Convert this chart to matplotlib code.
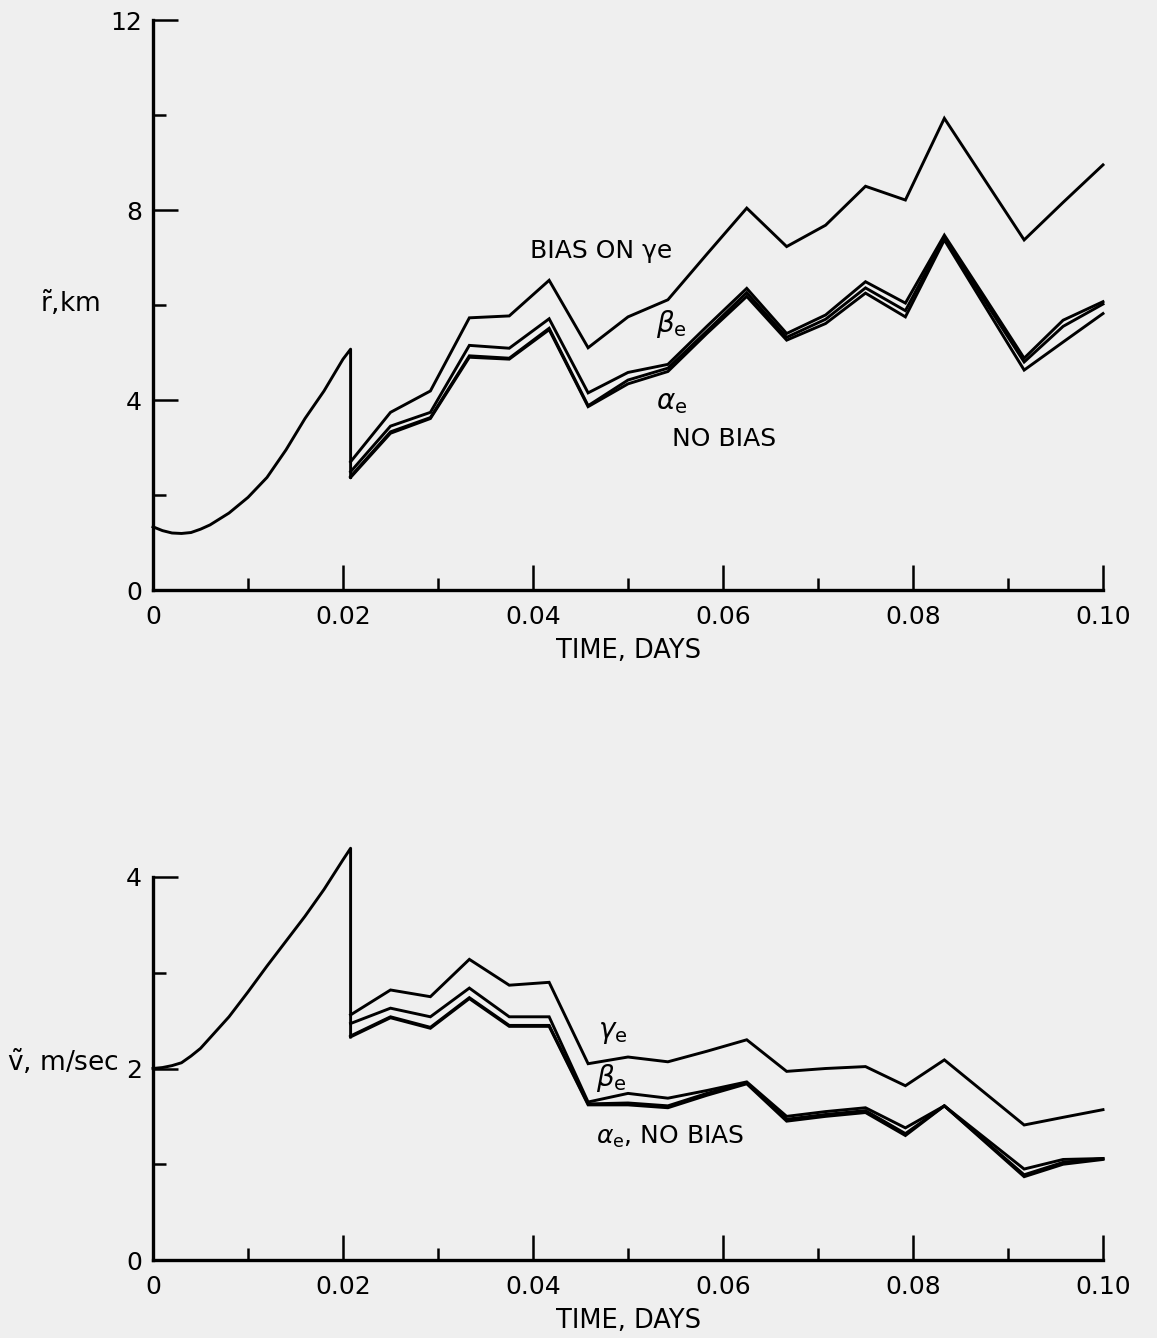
import matplotlib
matplotlib.use("Agg")
import matplotlib.pyplot as plt

# ---------------- data ----------------
# common curve before the first update (t in days)
pre_t = [0.0, 0.001, 0.002, 0.003, 0.004, 0.005, 0.006, 0.008, 0.010, 0.012, 0.014, 0.016, 0.018, 0.020, 0.0208]
pre_r = [1.33, 1.25, 1.20, 1.19, 1.21, 1.28, 1.37, 1.62, 1.95, 2.37, 2.95, 3.61, 4.19, 4.86, 5.07]
pre_v = [2.00, 2.01, 2.03, 2.06, 2.13, 2.21, 2.32, 2.54, 2.80, 3.07, 3.33, 3.59, 3.87, 4.18, 4.30]

# update times
t = [0.0208, 0.0250, 0.0292, 0.0333, 0.0375, 0.0417, 0.0458, 0.0500, 0.0542, 0.0583,
     0.0625, 0.0667, 0.0708, 0.0750, 0.0792, 0.0833, 0.0875, 0.0917, 0.0958, 0.1000]

# position error, km
gamma_r  = [2.70, 3.74, 4.19, 5.73, 5.77, 6.52, 5.10, 5.75, 6.11, 7.07,
            8.04, 7.23, 7.68, 8.50, 8.21, 9.93, 8.65, 7.37, 8.16, 8.95]
beta_r   = [2.49, 3.45, 3.74, 5.15, 5.09, 5.71, 4.15, 4.58, 4.75, 5.55,
            6.35, 5.40, 5.79, 6.49, 6.04, 7.47, 6.18, 4.88, 5.68, 6.07]
alpha_r  = [2.39, 3.33, 3.63, 4.93, 4.88, 5.51, 3.88, 4.42, 4.67, 5.45,
            6.26, 5.32, 5.70, 6.36, 5.88, 7.42, 6.10, 4.80, 5.55, 6.02]
nobias_r = [2.37, 3.30, 3.61, 4.90, 4.86, 5.48, 3.86, 4.34, 4.60, 5.40,
            6.18, 5.26, 5.61, 6.25, 5.75, 7.37, 6.00, 4.63, 5.22, 5.82]

# velocity error, m/sec
gamma_v  = [2.56, 2.82, 2.75, 3.14, 2.87, 2.90, 2.05, 2.12, 2.07, 2.18,
            2.30, 1.97, 2.00, 2.02, 1.82, 2.09, 1.75, 1.41, 1.49, 1.57]
beta_v   = [2.47, 2.63, 2.54, 2.84, 2.54, 2.54, 1.65, 1.74, 1.69, 1.77,
            1.86, 1.50, 1.55, 1.59, 1.38, 1.61, 1.28, 0.95, 1.05, 1.06]
alpha_v  = [2.34, 2.54, 2.43, 2.74, 2.45, 2.45, 1.63, 1.64, 1.61, 1.74,
            1.85, 1.47, 1.52, 1.56, 1.32, 1.61, 1.25, 0.89, 1.02, 1.06]
nobias_v = [2.33, 2.53, 2.42, 2.73, 2.44, 2.44, 1.62, 1.62, 1.59, 1.72,
            1.84, 1.45, 1.50, 1.54, 1.30, 1.61, 1.24, 0.87, 1.00, 1.05]

xticks = [0.0, 0.02, 0.04, 0.06, 0.08, 0.10]
xticklabels = ["0", "0.02", "0.04", "0.06", "0.08", "0.10"]
xminor = [0.01, 0.03, 0.05, 0.07, 0.09]
r_ticks = [0, 4, 8, 12]
r_minor = [2, 6, 10]
v_ticks = [0, 2, 4]
v_minor = [1, 3]

# ---------------- figure ----------------
W, H = 1157, 1338
BG = "#efefef"
plt.rcParams["font.family"] = ["DejaVu Sans"]
plt.rcParams["mathtext.fontset"] = "dejavusans"
fig = plt.figure(figsize=(W / 100, H / 100), dpi=100, facecolor=BG)

ax1 = fig.add_axes([153 / W, 1 - 590 / H, 950 / W, 570 / H])
ax2 = fig.add_axes([153 / W, 1 - 1260 / H, 950 / W, 383 / H])

LW = 2.1
for ax, ylim, yt, ym in [(ax1, (0, 12), r_ticks, r_minor), (ax2, (0, 4), v_ticks, v_minor)]:
    ax.set_facecolor("none")
    ax.set_xlim(0, 0.10)
    ax.set_ylim(*ylim)
    for s in ["top", "right"]:
        ax.spines[s].set_visible(False)
    for s in ["left", "bottom"]:
        ax.spines[s].set_linewidth(2.4)
    ax.set_xticks(xticks)
    ax.set_xticklabels(xticklabels)
    ax.set_xticks(xminor, minor=True)
    ax.set_yticks(yt)
    ax.set_yticks(ym, minor=True)
    ax.tick_params(which="major", direction="in", length=18, width=1.8,
                   labelsize=18, colors="black")
    ax.tick_params(which="minor", direction="in", length=9, width=1.8)
    ax.tick_params(axis="x", which="major", pad=11)
    ax.tick_params(axis="y", which="major", pad=8)
    ax.set_xlabel("TIME, DAYS", fontsize=18.5, labelpad=6)

# top panel: position error
ax1.plot(pre_t + [t[0]], pre_r + [nobias_r[0]], color="black", lw=LW, clip_on=False)
for ys in [gamma_r, beta_r, alpha_r, nobias_r]:
    ax1.plot(t, ys, color="black", lw=LW, clip_on=False, solid_joinstyle="miter")

# bottom panel: velocity error
ax2.plot(pre_t + [t[0]], pre_v + [nobias_v[0]], color="black", lw=LW, clip_on=False)
for ys in [gamma_v, beta_v, alpha_v, nobias_v]:
    ax2.plot(t, ys, color="black", lw=LW, clip_on=False, solid_joinstyle="miter")

# y labels
fig.text(40 / W, 1 - 303 / H, r"$\tilde{\mathrm{r}}$,km", fontsize=19, ha="left", va="center")
fig.text(7 / W, 1 - 1062 / H, r"$\tilde{\mathrm{v}}$, m/sec", fontsize=19, ha="left", va="center")

# curve annotations (top)
fig.text(530 / W, 1 - 251 / H, "BIAS ON \u03b3e", fontsize=18, ha="left", va="center")
fig.text(656 / W, 1 - 324 / H, r"$\beta_{\mathrm{e}}$", fontsize=20, ha="left", va="center")
fig.text(656 / W, 1 - 402 / H, r"$\alpha_{\mathrm{e}}$", fontsize=20, ha="left", va="center")
fig.text(672 / W, 1 - 439 / H, "NO BIAS", fontsize=18, ha="left", va="center")

# curve annotations (bottom)
fig.text(598 / W, 1 - 1032 / H, r"$\gamma_{\mathrm{e}}$", fontsize=20, ha="left", va="center")
fig.text(596 / W, 1 - 1078 / H, r"$\beta_{\mathrm{e}}$", fontsize=20, ha="left", va="center")
fig.text(596 / W, 1 - 1137 / H, r"$\alpha_{\mathrm{e}}$, NO BIAS", fontsize=18, ha="left", va="center")

fig.savefig("out.png", dpi=100, facecolor=BG)
